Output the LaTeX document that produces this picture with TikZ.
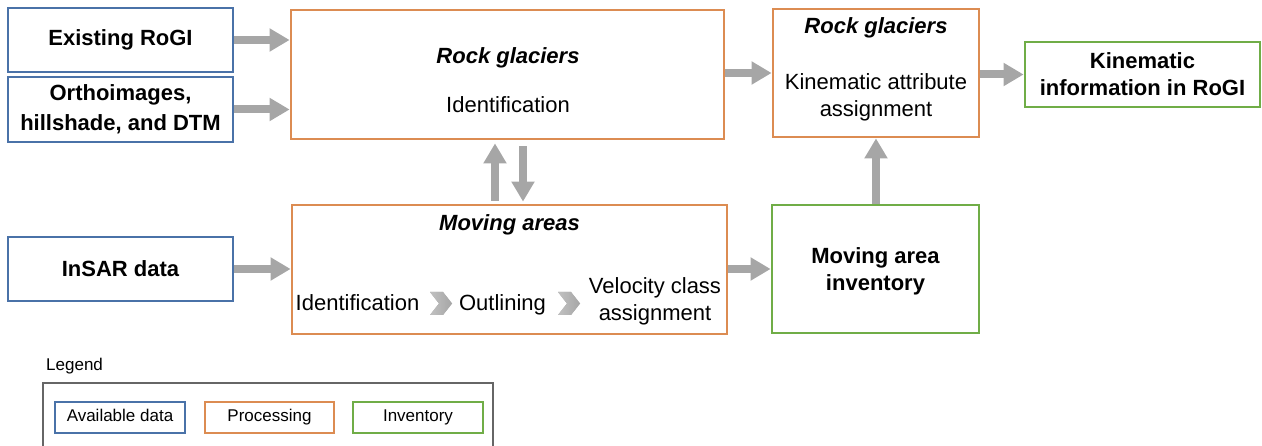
\documentclass[tikz,border=0pt]{standalone}
\usepackage{fontspec}
\setmainfont{Liberation Sans}
\usetikzlibrary{arrows.meta,calc}
\definecolor{cblue}{HTML}{4A72A8}
\definecolor{corange}{HTML}{DC8C52}
\definecolor{cgreen}{HTML}{70AD47}
\definecolor{carrow}{HTML}{A6A6A6}
\tikzset{
  box/.style={draw, line width=2.8pt, inner sep=0pt, align=center},
  databox/.style={box, draw=cblue, font=\fontsize{22}{30}\selectfont\bfseries},
  procbox/.style={box, draw=corange},
  invbox/.style={box, draw=cgreen, font=\fontsize{22}{27}\selectfont\bfseries},
  ttl/.style={font=\fontsize{22}{27}\selectfont\bfseries\itshape, inner sep=0pt},
  txt/.style={font=\fontsize{22}{27}\selectfont, inner sep=0pt, align=center},
  fat/.style={draw=carrow, line width=8pt, -{Triangle[length=20pt,width=22pt]}},
  legbox/.style={draw, line width=2.2pt, inner sep=0pt, minimum height=31pt, text height=12.5pt, text depth=3.5pt, font=\fontsize{17}{20}\selectfont},
  chev/.style={fill=carrow, draw=none},
}
\begin{document}
\begin{tikzpicture}[x=1pt,y=-1pt]
\useasboundingbox (0,0) rectangle (1262,446);
% data boxes
\node[databox, minimum width=225pt, minimum height=64pt] (rogi) at (120.5,40) {Existing RoGI};
\node[databox, minimum width=225pt, minimum height=65pt] (ortho) at (120.5,109.5) {Orthoimages,\\hillshade, and DTM};
\node[databox, minimum width=225pt, minimum height=64pt] (insar) at (120.5,269) {InSAR data};
% processing boxes
\node[procbox, minimum width=433pt, minimum height=129pt] (rg) at (507.5,74.5) {};
\node[ttl] (rgt) at (508,58) {Rock glaciers};
\node[txt] (rgi) at (508,105) {Identification};
\node[procbox, minimum width=206pt, minimum height=128pt] (rgk) at (876,73) {};
\node[ttl] (rgkt) at (876,28) {Rock glaciers};
\node[txt] (rgka) at (876,97) {Kinematic attribute\\assignment};
\node[procbox, minimum width=435pt, minimum height=129pt] (ma) at (509.5,269.5) {};
\node[ttl] (mat) at (509.5,225) {Moving areas};
\node[txt, anchor=base] (mai1) at (357.5,311) {Identification};
\node[txt, anchor=base] (mai2) at (502.5,311) {Outlining};
\node[txt] (mai3) at (655,301) {Velocity class\\assignment};
% chevrons
\fill[chev, left color=carrow!70, right color=carrow] (430,292) -- (443,292) -- (452,303.5) -- (443,315) -- (430,315) -- (439,303.5) -- cycle;
\fill[chev, left color=carrow!70, right color=carrow] (558,292) -- (571,292) -- (580,303.5) -- (571,315) -- (558,315) -- (567,303.5) -- cycle;
% inventory boxes
\node[invbox, minimum width=207pt, minimum height=128pt] (mai) at (875.5,269) {};
\node[invbox, draw=none] (mait) at (875.5,271) {Moving area\\inventory};
\node[invbox, minimum width=235pt, minimum height=65pt] (ki) at (1142.5,74.5) {Kinematic\\information in RoGI};
% arrows
\draw[fat] (rogi.east) -- (rg.west |- rogi.east);
\draw[fat] (ortho.east) -- (rg.west |- ortho.east);
\draw[fat] (rg.east |- rgk.west) -- (rgk.west);
\draw[fat] (rgk.east |- ki.west) -- (ki.west);
\draw[fat] (mai.north -| rgk.south) -- (rgk.south);
\draw[fat] (insar.east) -- (ma.west |- insar.east);
\draw[fat] (ma.east |- mai.west) -- (mai.west);
\draw[fat, shorten <=3pt, shorten >=3pt] ($(ma.north)+(-14.5,0)$) -- ($(rg.south)+(-12.5,0)$);
\draw[fat, shorten <=6pt, shorten >=2pt] ($(rg.south)+(15.5,0)$) -- ($(ma.north)+(13.5,0)$);
% legend
\node[font=\fontsize{17}{20}\selectfont, anchor=west, inner sep=0pt] (legt) at (46,366) {Legend};
\draw[draw=gray!80!black, line width=1.4pt] (43,383) rectangle (493,470);
\node[legbox, draw=cblue, minimum width=130pt] (lg1) at (120,417.5) {Available data};
\node[legbox, draw=corange, minimum width=129pt] (lg2) at (269.5,417.5) {Processing};
\node[legbox, draw=cgreen, minimum width=130pt] (lg3) at (418,417.5) {Inventory};
\end{tikzpicture}
\end{document}
